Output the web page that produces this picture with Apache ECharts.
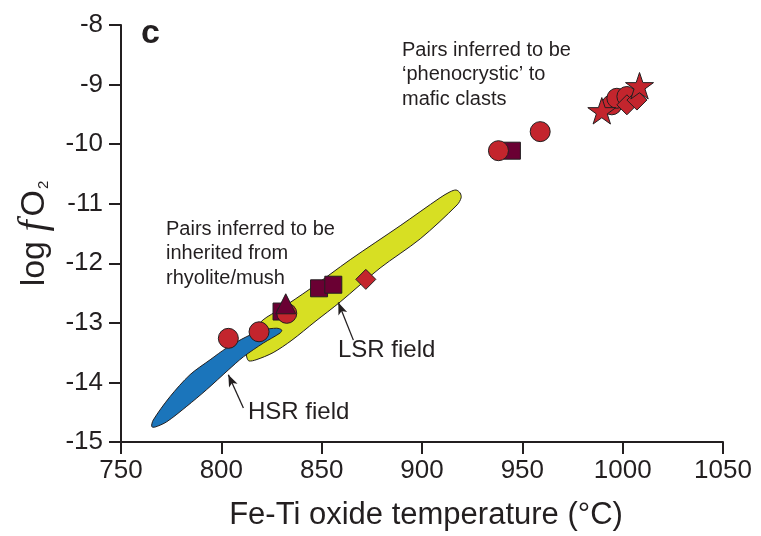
<!DOCTYPE html>
<html>
<head>
<meta charset="utf-8">
<script src="https://cdn.jsdelivr.net/npm/echarts@6/dist/echarts.min.js"></script>
<style>
  html, body { margin: 0; padding: 0; background: #fff; }
  #chart { width: 761px; height: 536px; }
</style>
</head>
<body>
<div id="chart"></div>
<script>
// Fe-Ti oxide temperature (°C) vs log fO2
var xTicks = [750, 800, 850, 900, 950, 1000, 1050];
var yTicks = [-15, -14, -13, -12, -11, -10, -9, -8];

var circles = [[803.5, -13.26], [818.8, -13.15], [832.6, -12.84], [938.1, -10.11], [958.9, -9.79],
               [994.6, -9.34], [997.1, -9.23], [1002.1, -9.20]];
var squares = [[830.0, -12.81], [848.7, -12.42], [855.8, -12.36], [944.8, -10.11]];
var diamonds = [[872.0, -12.27], [1002.1, -9.34], [1007.1, -9.26]];
var triangles = [[832.1, -12.68]];
var stars = [[989.6, -9.44], [1008.4, -9.02]];

// outlines of the fields
var lsrField = [[812.8, -13.59], [812.3, -13.45], [815.3, -13.17], [820.8, -12.95], [829.3, -12.77],
                [844.2, -12.43], [864.2, -11.94], [889.1, -11.37], [909.0, -10.90], [914.0, -10.80],
                [917.0, -10.77], [919.0, -10.82], [919.5, -10.90], [917.5, -11.02], [899.1, -11.59],
                [879.1, -12.08], [859.2, -12.65], [846.7, -12.98], [835.2, -13.29], [825.8, -13.50],
                [817.3, -13.62], [813.8, -13.64]];
var hsrField = [[765.3, -14.74], [766.1, -14.63], [774.4, -14.24], [784.4, -13.87], [794.4, -13.62],
                [802.7, -13.42], [812.7, -13.23], [820.9, -13.12], [827.6, -13.09], [830.1, -13.12],
                [829.3, -13.17], [820.9, -13.34], [811.0, -13.57], [803.5, -13.79], [792.7, -14.12],
                [782.8, -14.40], [772.8, -14.66], [766.9, -14.75]];

// arrows: [from, to]
var lsrArrow = [[865.8, -13.29], [858.3, -12.66]];
var hsrArrow = [[811.0, -14.43], [803.5, -13.87]];

var ink = '#231f20';
var red = '#c3252d';
var plum = '#6a0033';
var font = 'Liberation Sans, Arial, Helvetica, sans-serif';
var starPath = 'path://M50,0 L61.8,35.4 L99,35.4 L69,57.3 L80.4,92.7 L50,70.8 L19.6,92.7 L31,57.3 L1,35.4 L38.2,35.4 Z';

function fieldSeries(points, color) {
  return {
    type: 'custom',
    data: points,
    silent: true,
    renderItem: function (params, api) {
      if (params.dataIndex !== 0) return null;
      var pts = points.map(function (p) { return api.coord(p); });
      return {
        type: 'polygon',
        shape: { points: pts, smooth: 0.3 },
        style: { fill: color, stroke: ink, lineWidth: 1 }
      };
    }
  };
}

function markerSeries(data, symbol, size, color) {
  return {
    type: 'scatter',
    data: data,
    symbol: symbol,
    symbolSize: size,
    symbolKeepAspect: true,
    itemStyle: { color: color, borderColor: ink, borderWidth: 1, opacity: 1 },
    silent: true
  };
}

var dom = document.getElementById('chart');
var myChart = echarts.init(dom);

var option = {
  animation: false,
  backgroundColor: '#fff',
  grid: { left: 121, right: 38, top: 25, bottom: 94 },
  xAxis: {
    type: 'value',
    min: xTicks[0],
    max: xTicks[xTicks.length - 1],
    interval: 50,
    name: 'Fe-Ti oxide temperature (°C)',
    nameLocation: 'middle',
    nameGap: 58,
    nameTextStyle: { fontFamily: font, fontSize: 31, color: ink, padding: [0, 0, 0, 8] },
    axisLine: { onZero: false, lineStyle: { color: ink, width: 2 } },
    axisTick: { length: 12, lineStyle: { color: ink, width: 2 } },
    axisLabel: { fontFamily: font, fontSize: 26, color: ink, margin: 16, formatter: function (v) { return String(v); } },
    splitLine: { show: false }
  },
  yAxis: {
    type: 'value',
    min: yTicks[0],
    max: yTicks[yTicks.length - 1],
    interval: 1,
    name: '{a|log }{f|f}{b|O}{s|2}',
    nameLocation: 'middle',
    nameRotate: 90,
    nameGap: 50,
    nameTextStyle: {
      color: ink,
      rich: {
        a: { fontFamily: font, fontSize: 34, color: ink, lineHeight: 40 },
        f: { fontFamily: 'Liberation Serif, DejaVu Serif, serif', fontStyle: 'italic', fontSize: 40, color: ink, lineHeight: 40, padding: [0, 4, 0, 0] },
        b: { fontFamily: font, fontSize: 34, color: ink, lineHeight: 40 },
        s: { fontFamily: font, fontSize: 15, color: ink, verticalAlign: 'bottom', lineHeight: 15, padding: [0, 0, 3, 1] }
      }
    },
    axisLine: { onZero: false, lineStyle: { color: ink, width: 2 } },
    axisTick: { length: 12, lineStyle: { color: ink, width: 2 } },
    axisLabel: { fontFamily: font, fontSize: 26, color: ink, margin: 18 },
    splitLine: { show: false }
  },
  graphic: [
    { type: 'text', left: 141, top: 17, style: { text: 'c', fontFamily: font, fontSize: 34, fontWeight: 'bold', fill: ink } },
    { type: 'text', left: 402, top: 38, style: { text: 'Pairs inferred to be\n‘phenocrystic’ to\nmafic clasts', fontFamily: font, fontSize: 20, lineHeight: 24.5, fill: ink } },
    { type: 'text', left: 166, top: 217, style: { text: 'Pairs inferred to be\ninherited from\nrhyolite/mush', fontFamily: font, fontSize: 20, lineHeight: 24.5, fill: ink } },
    { type: 'text', left: 338, top: 338, style: { text: 'LSR field', fontFamily: font, fontSize: 24, fill: ink } },
    { type: 'text', left: 248, top: 400, style: { text: 'HSR field', fontFamily: font, fontSize: 24, fill: ink } }
  ],
  series: [
    fieldSeries(lsrField, '#d7df23'),
    fieldSeries(hsrField, '#1b75bb'),
    {
      type: 'scatter',
      data: [],
      silent: true,
      markLine: {
        silent: true,
        symbol: ['none', 'arrow'],
        symbolSize: [7, 12],
        label: { show: false },
        lineStyle: { color: ink, width: 1.3, type: 'solid' },
        data: [
          [{ coord: lsrArrow[0] }, { coord: lsrArrow[1] }],
          [{ coord: hsrArrow[0] }, { coord: hsrArrow[1] }]
        ]
      }
    },
    markerSeries(squares, 'rect', 17, plum),
    markerSeries(circles, 'circle', 20, red),
    markerSeries(diamonds, 'diamond', 20, red),
    markerSeries(triangles, 'triangle', 20, plum),
    markerSeries(stars, starPath, 28, red)
  ]
};

if (option && typeof option === 'object') {
  myChart.setOption(option);
}
</script>
</body>
</html>
